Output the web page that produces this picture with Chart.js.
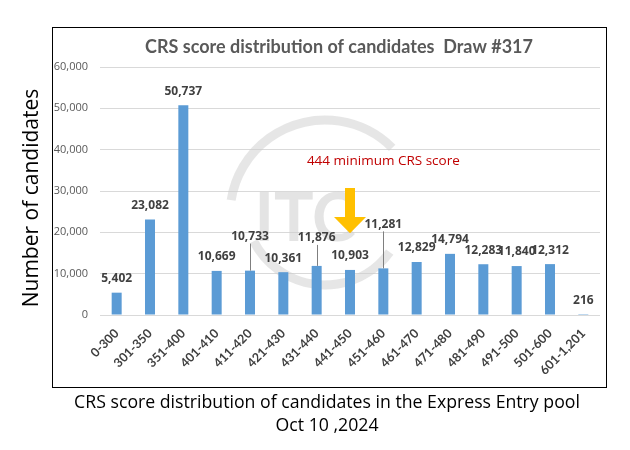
<!DOCTYPE html>
<html><head><meta charset="utf-8">
<script src="https://cdn.jsdelivr.net/npm/chart.js@4.4.1/dist/chart.umd.min.js"></script>
<style>html,body{margin:0;padding:0;background:#fff}#wrap{width:630px;height:450px;position:relative}</style>
</head><body><div id="wrap"><canvas id="c" width="630" height="450"></canvas></div>
<script>
const categories = ['0-300','301-350','351-400','401-410','411-420','421-430','431-440','441-450','451-460','461-470','471-480','481-490','491-500','501-600','601-1,201'];
const candidates = [5402,23082,50737,10669,10733,10361,11876,10903,11281,12829,14794,12283,11840,12312,216];
const yMax = 60000;
const yStep = 10000;
const chartTitle = 'CRS score distribution of candidates  Draw #317';
const yAxisTitle = 'Number of candidates';
const captionLines = ['CRS score distribution of candidates in the Express Entry pool', 'Oct 10 ,2024'];
const cutoffText = '444 minimum CRS score';
const cutoffCategory = '441-450';

const BASE = 'Lato, "Open Sans", sans-serif';
const NUM = '"Open Sans", sans-serif';

const decor = {
  id: 'decor',
  beforeDraw(chart) {
    const ctx = chart.ctx;
    ctx.save();
    ctx.fillStyle = '#fff';
    ctx.fillRect(0, 0, chart.width, chart.height);
    ctx.strokeStyle = '#000';
    ctx.lineWidth = 1;
    ctx.strokeRect(52.5, 27.5, 554, 360);
    // title
    ctx.fillStyle = '#595959';
    ctx.font = 'bold 18px ' + BASE;
    ctx.textAlign = 'center';
    ctx.textBaseline = 'middle';
    ctx.fillText(chartTitle, 339, 47);
    // y axis title
    ctx.save();
    ctx.translate(32, 198);
    ctx.rotate(-Math.PI / 2);
    ctx.fillStyle = '#000';
    ctx.font = '21px "Open Sans", sans-serif';
    ctx.fillText(yAxisTitle, 0, 0);
    ctx.restore();
    // caption
    ctx.fillStyle = '#000';
    ctx.font = '17.7px "Open Sans", sans-serif';
    ctx.fillText(captionLines[0], 327, 403);
    ctx.fillText(captionLines[1], 327, 426);
    ctx.restore();
  },
  beforeDatasetsDraw(chart) {
    // faint watermark
    const ctx = chart.ctx;
    ctx.save();
    ctx.fillStyle = 'rgba(205,205,205,0.55)';
    ctx.font = 'bold 66px ' + BASE;
    ctx.textAlign = 'center';
    ctx.textBaseline = 'middle';
    ctx.fillText('ITC', 305, 220);
    ctx.strokeStyle = 'rgba(205,205,205,0.5)';
    ctx.lineWidth = 9;
    ctx.beginPath();
    ctx.arc(325, 215, 95, Math.PI * 1.05, Math.PI * 1.75);
    ctx.stroke();
    ctx.beginPath();
    ctx.arc(325, 205, 80, Math.PI * 0.2, Math.PI * 0.85);
    ctx.stroke();
    ctx.restore();
  },
  afterDatasetsDraw(chart, args, opts) {
    const ctx = chart.ctx;
    const meta = chart.getDatasetMeta(0);
    const xs = chart.scales.x, ys = chart.scales.y;
    ctx.save();
    ctx.font = 'bold 12px ' + NUM;
    ctx.fillStyle = '#404040';
    ctx.textAlign = 'center';
    ctx.textBaseline = 'middle';
    meta.data.forEach((bar, i) => {
      const lift = (opts.lift && opts.lift[i]) || 0;
      const y = bar.y - 14 - lift;
      ctx.fillText(candidates[i].toLocaleString('en-US'), bar.x, y);
      if (lift) {
        ctx.strokeStyle = '#7f7f7f';
        ctx.lineWidth = 1;
        ctx.beginPath();
        ctx.moveTo(Math.round(bar.x) + 0.5, y + 7);
        ctx.lineTo(Math.round(bar.x) + 0.5, bar.y);
        ctx.stroke();
      }
    });
    // cutoff annotation
    const ci = categories.indexOf(cutoffCategory);
    const ax = xs.getPixelForValue(ci);
    ctx.fillStyle = '#C00000';
    ctx.font = '13.5px "Open Sans", sans-serif';
    ctx.fillText(cutoffText, xs.getPixelForValue(ci + 1), ys.getPixelForValue(37300));
    const yTop = ys.getPixelForValue(30700), yHead = ys.getPixelForValue(23700), yTip = ys.getPixelForValue(19800);
    ctx.fillStyle = '#FFC000';
    ctx.beginPath();
    ctx.moveTo(ax - 5, yTop);
    ctx.lineTo(ax + 5, yTop);
    ctx.lineTo(ax + 5, yHead);
    ctx.lineTo(ax + 16, yHead);
    ctx.lineTo(ax, yTip);
    ctx.lineTo(ax - 16, yHead);
    ctx.lineTo(ax - 5, yHead);
    ctx.closePath();
    ctx.fill();
    ctx.restore();
  }
};

new Chart(document.getElementById('c'), {
  type: 'bar',
  data: {
    labels: categories,
    datasets: [{
      data: candidates,
      backgroundColor: '#5B9BD5',
      barPercentage: 0.3,
      categoryPercentage: 1.0
    }]
  },
  options: {
    responsive: false,
    animation: false,
    layout: { padding: { left: 52, right: 30, top: 67, bottom: 65 } },
    plugins: {
      legend: { display: false },
      tooltip: { enabled: false },
      decor: { lift: { 4: 20, 6: 14, 8: 30 } }
    },
    scales: {
      x: {
        grid: { display: false, drawTicks: false },
        border: { display: false },
        ticks: {
          color: '#404040',
          font: { family: BASE, size: 12.5, weight: 'bold' },
          minRotation: 45, maxRotation: 45, padding: 11
        },
        afterFit(s) { s.height = 70; }
      },
      y: {
        min: 0, max: yMax,
        grid: { color: '#D9D9D9', drawTicks: false },
        border: { display: false },
        ticks: {
          stepSize: yStep,
          color: '#595959',
          font: { family: NUM, size: 11 },
          padding: 12,
          callback: v => v.toLocaleString('en-US')
        },
        afterFit(s) { s.width = 48; }
      }
    }
  },
  plugins: [decor]
});
</script></body></html>
